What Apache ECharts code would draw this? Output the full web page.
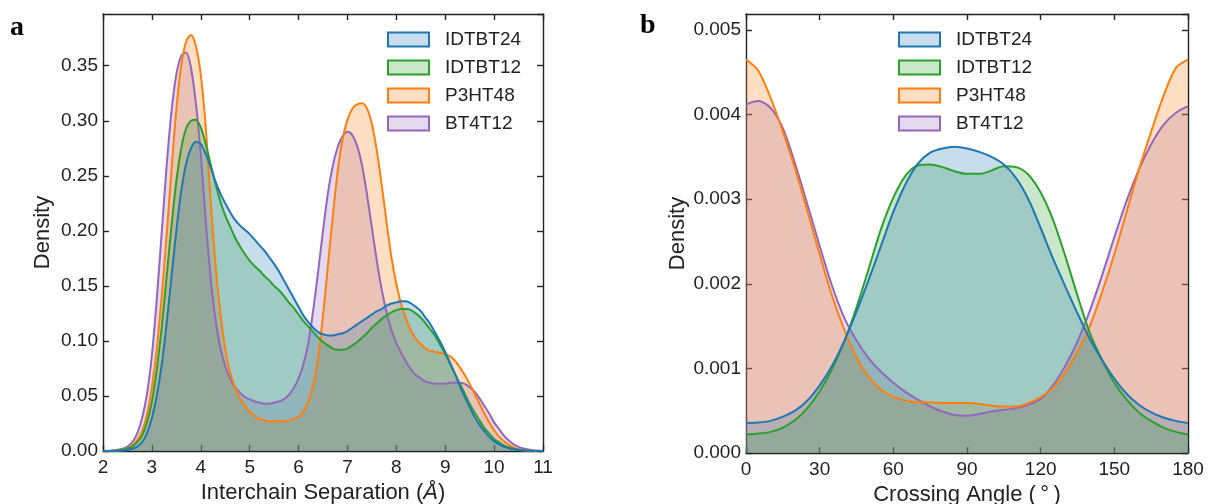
<!DOCTYPE html>
<html>
<head>
<meta charset="utf-8">
<script src="https://cdn.jsdelivr.net/npm/echarts@6/dist/echarts.min.js"></script>
<style>
html,body{margin:0;padding:0;background:#fff;}
#chart{width:1208px;height:504px;}
</style>
</head>
<body>
<div id="chart"></div>
<script>
// ---------- Panel a: Interchain separation (Å) ----------
const sepX = [2.0,2.2,2.4,2.5,2.6,2.7,2.8,2.9,3.0,3.1,3.2,3.3,3.4,3.5,3.6,3.7,3.8,3.9,4.0,4.1,4.2,4.3,4.4,4.5,4.6,4.7,4.8,4.9,5.0,5.1,5.2,5.3,5.4,5.5,5.6,5.7,5.8,5.9,6.0,6.1,6.2,6.3,6.4,6.5,6.6,6.7,6.8,6.9,7.0,7.1,7.2,7.3,7.4,7.5,7.6,7.7,7.8,7.9,8.0,8.1,8.2,8.3,8.4,8.5,8.6,8.7,8.8,8.9,9.0,9.1,9.2,9.3,9.4,9.5,9.6,9.7,9.8,9.9,10.0,10.1,10.2,10.3,10.4,10.5,10.6,10.8,11.0];
const sepIDTBT24 = [0,0.0001,0.0005,0.001,0.002,0.004,0.008,0.016,0.03,0.05,0.078,0.115,0.158,0.2,0.236,0.261,0.275,0.281,0.279,0.27,0.258,0.245,0.234,0.225,0.217,0.21,0.205,0.201,0.197,0.192,0.187,0.182,0.176,0.17,0.163,0.155,0.147,0.139,0.131,0.123,0.117,0.112,0.108,0.106,0.105,0.105,0.106,0.107,0.109,0.112,0.115,0.118,0.121,0.124,0.127,0.129,0.132,0.134,0.135,0.136,0.136,0.134,0.131,0.127,0.121,0.115,0.107,0.099,0.09,0.08,0.07,0.059,0.049,0.04,0.031,0.024,0.018,0.013,0.009,0.006,0.004,0.0025,0.0015,0.001,0.0005,0.0001,0];
const sepIDTBT12 = [0,0.0002,0.001,0.002,0.004,0.008,0.014,0.026,0.045,0.074,0.112,0.158,0.204,0.245,0.275,0.293,0.3,0.301,0.294,0.279,0.261,0.243,0.227,0.214,0.204,0.194,0.186,0.179,0.173,0.168,0.164,0.159,0.155,0.15,0.146,0.141,0.135,0.13,0.124,0.118,0.113,0.108,0.103,0.099,0.096,0.093,0.092,0.092,0.093,0.096,0.099,0.103,0.107,0.112,0.116,0.12,0.123,0.126,0.128,0.129,0.129,0.128,0.125,0.121,0.116,0.11,0.104,0.096,0.088,0.079,0.07,0.061,0.052,0.043,0.035,0.028,0.021,0.016,0.011,0.008,0.005,0.0033,0.002,0.0012,0.0006,0.0001,0];
const sepP3HT48 = [0,0.0002,0.001,0.002,0.005,0.01,0.018,0.033,0.058,0.093,0.14,0.195,0.255,0.31,0.35,0.372,0.378,0.368,0.342,0.295,0.228,0.17,0.125,0.093,0.071,0.058,0.048,0.041,0.036,0.032,0.029,0.028,0.027,0.027,0.027,0.027,0.028,0.029,0.031,0.036,0.045,0.06,0.085,0.123,0.168,0.213,0.254,0.283,0.301,0.311,0.315,0.316,0.311,0.297,0.273,0.242,0.208,0.176,0.152,0.133,0.12,0.109,0.102,0.097,0.093,0.091,0.09,0.089,0.088,0.086,0.082,0.076,0.069,0.061,0.052,0.043,0.034,0.026,0.019,0.013,0.009,0.0055,0.003,0.0018,0.001,0.0003,0];
const sepBT4T12 = [0.0001,0.0005,0.002,0.004,0.008,0.016,0.03,0.052,0.087,0.138,0.198,0.258,0.308,0.342,0.359,0.362,0.348,0.316,0.27,0.21,0.158,0.12,0.094,0.077,0.066,0.058,0.053,0.049,0.047,0.045,0.044,0.043,0.043,0.044,0.045,0.047,0.051,0.057,0.066,0.079,0.098,0.128,0.163,0.2,0.234,0.259,0.276,0.286,0.29,0.287,0.277,0.259,0.233,0.203,0.173,0.147,0.126,0.11,0.098,0.089,0.081,0.074,0.069,0.066,0.063,0.062,0.061,0.061,0.061,0.062,0.062,0.062,0.061,0.058,0.054,0.048,0.041,0.034,0.026,0.02,0.014,0.0095,0.006,0.0037,0.0022,0.0006,0.0001];

// ---------- Panel b: Crossing angle (deg), density ×1e-3 ----------
const angX = [0,5,10,15,20,25,30,35,40,45,50,55,60,65,70,75,80,85,90,95,100,105,110,115,120,125,130,135,140,145,150,155,160,165,170,175,180];
const angIDTBT24 = [0.355,0.36,0.38,0.43,0.5,0.62,0.8,1.03,1.32,1.67,2.05,2.45,2.85,3.18,3.42,3.55,3.6,3.62,3.6,3.56,3.5,3.41,3.25,3.0,2.66,2.3,1.97,1.65,1.35,1.1,0.88,0.7,0.57,0.48,0.42,0.38,0.355];
const angIDTBT12 = [0.22,0.23,0.25,0.3,0.39,0.53,0.73,0.99,1.32,1.72,2.18,2.65,3.02,3.28,3.4,3.41,3.38,3.33,3.3,3.3,3.34,3.39,3.38,3.29,3.08,2.76,2.33,1.86,1.42,1.1,0.83,0.63,0.48,0.38,0.3,0.25,0.22];
const angP3HT48 = [4.65,4.52,4.2,3.8,3.36,2.86,2.35,1.86,1.46,1.13,0.9,0.75,0.66,0.62,0.6,0.6,0.59,0.59,0.59,0.58,0.56,0.55,0.55,0.59,0.66,0.77,0.95,1.2,1.5,1.9,2.35,2.85,3.35,3.8,4.22,4.55,4.65];
const angBT4T12 = [4.12,4.16,4.08,3.84,3.42,2.94,2.45,1.98,1.6,1.33,1.12,0.96,0.83,0.72,0.63,0.55,0.49,0.45,0.44,0.46,0.49,0.51,0.53,0.57,0.64,0.8,1.03,1.32,1.68,2.1,2.55,2.98,3.35,3.65,3.88,4.02,4.1];
const angScale = 0.001;

const names = ['IDTBT24','IDTBT12','P3HT48','BT4T12'];
const colors = {IDTBT24:'#1f77b4', IDTBT12:'#2ca02c', P3HT48:'#ff7f0e', BT4T12:'#9467bd'};
const fills = {IDTBT24:'rgba(31,119,180,0.25)', IDTBT12:'rgba(44,160,44,0.25)', P3HT48:'rgba(255,127,14,0.25)', BT4T12:'rgba(148,103,189,0.25)'};

const sepData = {IDTBT24:sepIDTBT24, IDTBT12:sepIDTBT12, P3HT48:sepP3HT48, BT4T12:sepBT4T12};
const angData = {IDTBT24:angIDTBT24, IDTBT12:angIDTBT12, P3HT48:angP3HT48, BT4T12:angBT4T12};

// drawing order: bottom -> top
const drawOrder = ['BT4T12','P3HT48','IDTBT12','IDTBT24'];

const FONT = 'Liberation Sans, Arial, sans-serif';
const AX = '#222';

function mkSeries(name, xs, ys, idx, scale) {
  return {
    name: name, type: 'line', xAxisIndex: idx, yAxisIndex: idx,
    data: xs.map((x, i) => [x, ys[i] * scale]),
    smooth: 0.3, showSymbol: false, symbol: 'none',
    lineStyle: {color: colors[name], width: 2},
    itemStyle: {color: colors[name]},
    areaStyle: {color: fills[name], origin: 'start', opacity: 1},
    emphasis: {disabled: true},
    animation: false
  };
}

const series = [];
drawOrder.forEach(n => series.push(mkSeries(n, sepX, sepData[n], 0, 1)));
drawOrder.forEach(n => series.push(mkSeries(n, angX, angData[n], 2, angScale)));

function legendFor(left) {
  return {
    left: left, top: 30, orient: 'vertical', icon: 'rect', padding: 0,
    itemWidth: 41, itemHeight: 14, itemGap: 9,
    textStyle: {fontFamily: FONT, fontSize: 19, color: '#222', padding: [0,0,0,11]},
    data: names.map(n => ({name: n, itemStyle: {color: fills[n], borderColor: colors[n], borderWidth: 2, opacity: 1}})),
    selectedMode: false
  };
}

const lineS = {color: AX, width: 1.4};
function xAxisPair(grid, min, max, interval, name, nameRich, nameGap) {
  return [
    {gridIndex: grid, type: 'value', min: min, max: max, interval: interval, position: 'bottom',
     axisLine: {onZero: false, lineStyle: lineS},
     axisTick: {inside: true, length: 6, lineStyle: lineS},
     axisLabel: {fontFamily: FONT, fontSize: 19, color: '#222', margin: 7},
     splitLine: {show: false},
     name: name, nameLocation: 'middle', nameGap: nameGap,
     nameTextStyle: {fontFamily: FONT, fontSize: 22, color: '#222', rich: nameRich}},
    {gridIndex: grid, type: 'value', min: min, max: max, interval: interval, position: 'top',
     axisLine: {onZero: false, lineStyle: lineS},
     axisTick: {inside: true, length: 6, lineStyle: lineS},
     axisLabel: {show: false}, splitLine: {show: false}}
  ];
}
function yAxisPair(grid, max, interval, digits, nameGap) {
  return [
    {gridIndex: grid, type: 'value', min: 0, max: max, interval: interval, position: 'left',
     axisLine: {show: true, onZero: false, lineStyle: lineS},
     axisTick: {show: true, inside: true, length: 6, lineStyle: lineS},
     axisLabel: {fontFamily: FONT, fontSize: 19, color: '#222', margin: 5, showMaxLabel: false,
                 formatter: v => v.toFixed(digits)},
     splitLine: {show: false},
     name: 'Density', nameLocation: 'middle', nameGap: nameGap, nameRotate: 90,
     nameTextStyle: {fontFamily: FONT, fontSize: 22, color: '#222'}},
    {gridIndex: grid, type: 'value', min: 0, max: max, interval: interval, position: 'right',
     axisLine: {show: true, onZero: false, lineStyle: lineS},
     axisTick: {show: true, inside: true, length: 6, lineStyle: lineS},
     axisLabel: {show: false}, splitLine: {show: false}}
  ];
}

const xAxes = [
  ...xAxisPair(0, 2, 11, 1, 'Interchain Separation ({i|Å})', {i: {fontStyle: 'italic', fontFamily: FONT, fontSize: 22, color: '#222'}}, 31),
  ...xAxisPair(1, 0, 180, 30, 'Crossing Angle (\u2009\u00B0\u2009)', {}, 28)
];
const yAxes = [
  ...yAxisPair(0, 0.397, 0.05, 2, 49),
  ...yAxisPair(1, 0.00519, 0.001, 3, 57)
];

const chart = echarts.init(document.getElementById('chart'), null, {renderer: 'canvas'});
chart.setOption({
  backgroundColor: '#fff',
  animation: false,
  grid: [
    {left: 103, right: 665, top: 14, bottom: 53, containLabel: false, outerBoundsMode: 'none'},
    {left: 746, right: 20, top: 14, bottom: 51, containLabel: false, outerBoundsMode: 'none'}
  ],
  xAxis: xAxes,
  yAxis: yAxes,
  legend: [legendFor(387), legendFor(898)],
  graphic: [
    {type: 'text', left: 10, top: 14, style: {text: 'a', font: 'bold 28px "Liberation Serif", "Times New Roman", serif', fill: '#000'}},
    {type: 'text', left: 640, top: 12, style: {text: 'b', font: 'bold 28px "Liberation Serif", "Times New Roman", serif', fill: '#000'}}
  ],
  series: series
});
</script>
</body>
</html>
